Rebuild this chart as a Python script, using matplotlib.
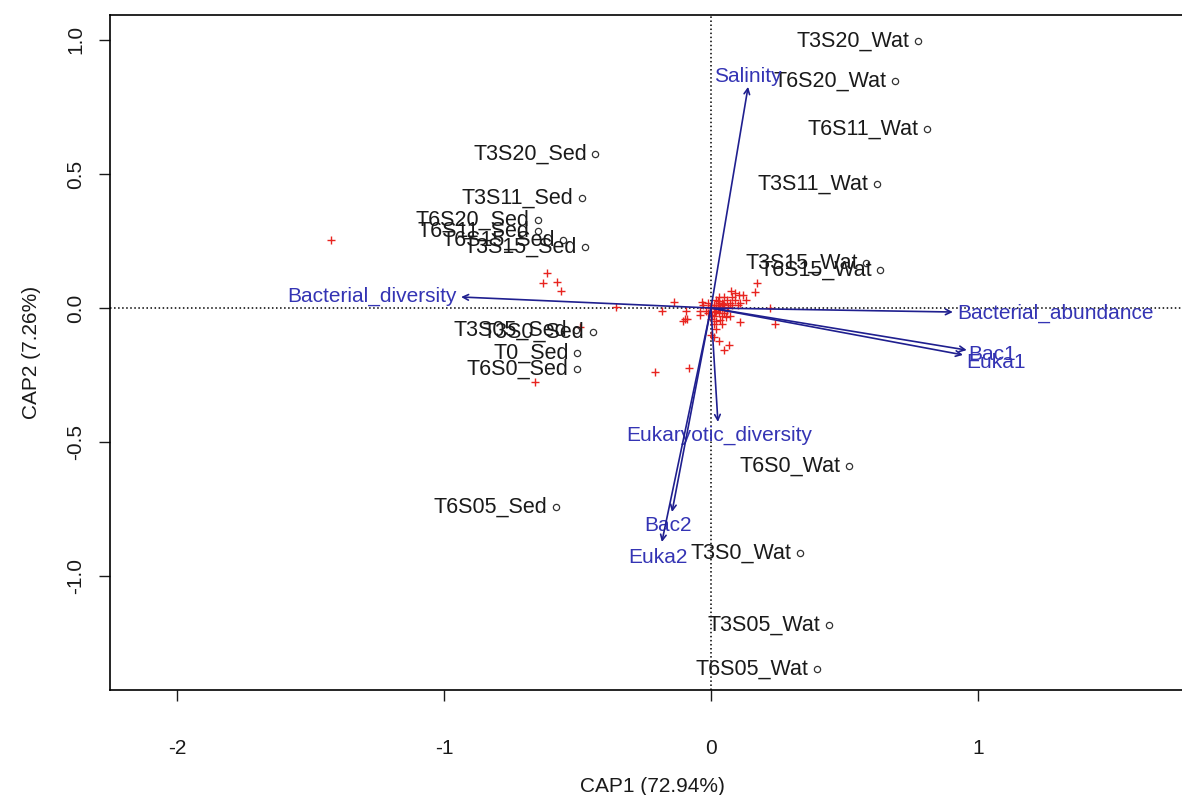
import matplotlib.pyplot as plt
import numpy as np

plt.rcParams['font.family'] = ['Liberation Sans', 'DejaVu Sans']
plt.rcParams['axes.unicode_minus'] = False

# site scores (CAP1, CAP2)
site_names = ['T3S20_Wat', 'T6S20_Wat', 'T6S11_Wat', 'T3S11_Wat', 'T3S15_Wat',
              'T6S15_Wat', 'T6S0_Wat', 'T3S0_Wat', 'T3S05_Wat', 'T6S05_Wat',
              'T3S20_Sed', 'T3S11_Sed', 'T6S20_Sed', 'T6S11_Sed', 'T6S15_Sed',
              'T3S15_Sed', 'T3S05_Sed', 'T3S0_Sed', 'T0_Sed', 'T6S0_Sed', 'T6S05_Sed']
site_x = [0.775, 0.689, 0.809, 0.622, 0.581, 0.633, 0.517, 0.333, 0.442, 0.397,
          -0.434, -0.483, -0.648, -0.648, -0.554, -0.472, -0.506, -0.442, -0.502, -0.502, -0.581]
site_y = [0.996, 0.847, 0.668, 0.463, 0.168, 0.142, -0.590, -0.914, -1.183, -1.347,
          0.575, 0.410, 0.328, 0.287, 0.254, 0.228, -0.082, -0.090, -0.168, -0.228, -0.743]

# species scores
sp_x = [-1.423, -0.614, -0.629, -0.577, -0.562, -0.356, -0.491, -0.659, -0.210, -0.082,
        -0.139, -0.184, -0.094, -0.097, -0.090, -0.105, -0.041, -0.034, 0.172, 0.165,
        0.075, 0.090, 0.105, 0.221, 0.240, 0.109, 0.011, 0.030, 0.067, 0.049,
        0.00, 0.01, -0.01, 0.02, 0.03, 0.04, 0.05, 0.06, 0.07, 0.08,
        0.02, 0.03, 0.01, 0.00, 0.02, 0.04, 0.05, -0.02, -0.03, 0.06,
        0.09, 0.10, 0.03, 0.05, 0.01, 0.04, -0.01, 0.07, 0.11, 0.08,
        0.02, 0.03, 0.01, 0.00, 0.04, 0.12, 0.13, -0.04, 0.02, 0.00,
        0.015, 0.025, 0.035, 0.045, 0.055, 0.005, -0.005, 0.065, 0.035, 0.025]
sp_y = [0.254, 0.131, 0.093, 0.097, 0.063, 0.004, -0.071, -0.276, -0.239, -0.224,
        0.022, -0.011, -0.011, -0.041, -0.041, -0.049, -0.026, 0.022, 0.093, 0.060,
        0.063, 0.056, 0.049, 0.000, -0.060, -0.052, -0.108, -0.123, -0.138, -0.157,
        0.00, 0.01, 0.02, -0.01, 0.02, 0.00, 0.01, 0.03, 0.02, 0.01,
        0.03, -0.02, -0.03, -0.04, -0.05, -0.03, -0.02, -0.01, 0.01, -0.01,
        0.03, 0.01, 0.04, 0.04, -0.06, -0.06, -0.02, -0.03, 0.02, 0.04,
        0.00, 0.01, 0.00, 0.01, 0.02, 0.05, 0.03, -0.01, -0.08, -0.10,
        -0.015, 0.005, -0.005, 0.015, -0.035, -0.025, 0.005, 0.005, -0.045, 0.025]

# biplot arrows: tip and label anchor
env_names = ['Salinity', 'Bacterial_diversity', 'Bacterial_abundance', 'Bac1', 'Euka1',
             'Eukaryotic_diversity', 'Bac2', 'Euka2']
env_x = [0.139, -0.936, 0.906, 0.958, 0.944, 0.026, -0.146, -0.184]
env_y = [0.825, 0.041, -0.015, -0.157, -0.175, -0.425, -0.761, -0.873]
lab_x = [0.139, -0.951, 0.921, 0.963, 0.958, 0.030, -0.161, -0.199]
lab_y = [0.862, 0.045, -0.019, -0.175, -0.205, -0.474, -0.813, -0.929]
lab_ha = ['center', 'right', 'left', 'left', 'left', 'center', 'center', 'center']

fig = plt.figure(figsize=(11.82, 7.95), dpi=100)
ax = fig.add_axes([110 / 1182, 105 / 795, 1085 / 1182, 675 / 795])

ax.axhline(0, color='black', ls=':', lw=1.1)
ax.axvline(0, color='black', ls=':', lw=1.1)

ax.plot(sp_x, sp_y, ls='none', marker='+', color='#e8241f', ms=6, mew=1.0)

for x, y, nm in zip(site_x, site_y, site_names):
    ax.plot(x, y, ls='none', marker='o', ms=4.5, mfc='none', mec='#333333', mew=0.9)
    ax.annotate(nm, (x, y), xytext=(-6, 0), textcoords='offset points',
                ha='right', va='center', fontsize=15.5, color='#1a1a1a')

for x, y, lx, ly, nm, ha in zip(env_x, env_y, lab_x, lab_y, env_names, lab_ha):
    ax.annotate('', xy=(x, y), xytext=(0, 0),
                arrowprops=dict(arrowstyle='->', color='#1f1f8f', lw=1.2,
                                shrinkA=0, shrinkB=0, mutation_scale=10))
    ax.text(lx, ly, nm, ha=ha, va='center', fontsize=15, color='#3434b4')

ax.set_xlim(-2.251, 1.813)
ax.set_ylim(-1.425, 1.093)
ax.set_xticks([-2, -1, 0, 1])
ax.set_yticks([-1.0, -0.5, 0.0, 0.5, 1.0])
ax.set_yticklabels(['-1.0', '-0.5', '0.0', '0.5', '1.0'], rotation=90, va='center')
ax.tick_params(direction='out', length=8, width=1, labelsize=15, colors='#1a1a1a')
ax.tick_params(axis='x', pad=27)
ax.tick_params(axis='y', pad=10)
for s in ax.spines.values():
    s.set_linewidth(1.2)

ax.set_xlabel('CAP1 (72.94%)', fontsize=15, labelpad=14, color='#1a1a1a')
ax.set_ylabel('CAP2 (7.26%)', fontsize=15, labelpad=18, color='#1a1a1a')

fig.savefig('out.png', dpi=100)
